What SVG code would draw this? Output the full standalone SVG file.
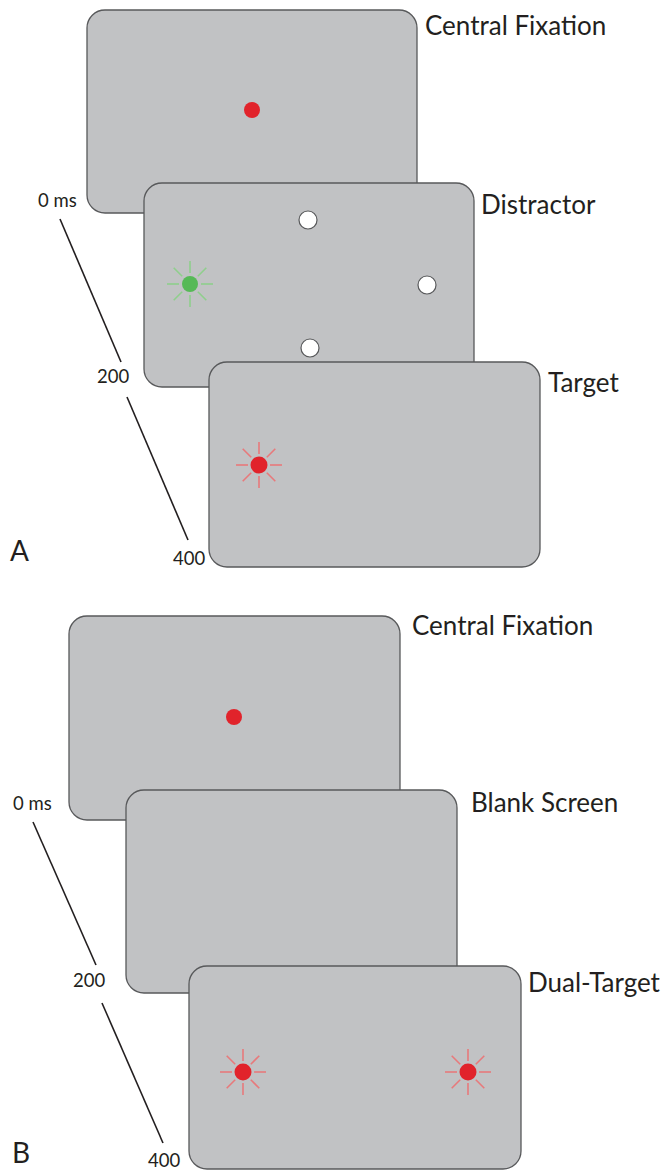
<svg xmlns="http://www.w3.org/2000/svg" width="664" height="1170" viewBox="0 0 664 1170">
  <defs>
    <style>
      .screen { fill: #c1c2c4; stroke: #58595b; stroke-width: 1.3; }
      .lbl { font-family: Lato, "Open Sans", sans-serif; font-size: 26px; fill: #231f20; }
      .tm { font-family: Lato, "Open Sans", sans-serif; font-size: 18.5px; fill: #231f20; }
      .panel { font-family: Lato, "Open Sans", sans-serif; font-size: 28px; fill: #231f20; }
      .axis { stroke: #231f20; stroke-width: 1.6; fill: none; }
      .fix { fill: #e1232b; }
      .ring { fill: #ffffff; stroke: #58595b; stroke-width: 1.2; }
      .rayR { stroke: #e8797b; stroke-width: 1.6; }
      .rayG { stroke: #8fcf8c; stroke-width: 1.6; }
      .dotG { fill: #56b956; }
    </style>
    <g id="raysR" class="rayR">
      <line x1="0" y1="-11" x2="0" y2="-23"/>
      <line x1="0" y1="11" x2="0" y2="23"/>
      <line x1="-11" y1="0" x2="-23" y2="0"/>
      <line x1="11" y1="0" x2="23" y2="0"/>
      <line x1="7.8" y1="-7.8" x2="16.3" y2="-16.3"/>
      <line x1="-7.8" y1="-7.8" x2="-16.3" y2="-16.3"/>
      <line x1="7.8" y1="7.8" x2="16.3" y2="16.3"/>
      <line x1="-7.8" y1="7.8" x2="-16.3" y2="16.3"/>
    </g>
    <g id="raysG" class="rayG">
      <line x1="0" y1="-11" x2="0" y2="-23"/>
      <line x1="0" y1="11" x2="0" y2="23"/>
      <line x1="-11" y1="0" x2="-23" y2="0"/>
      <line x1="11" y1="0" x2="23" y2="0"/>
      <line x1="7.8" y1="-7.8" x2="16.3" y2="-16.3"/>
      <line x1="-7.8" y1="-7.8" x2="-16.3" y2="-16.3"/>
      <line x1="7.8" y1="7.8" x2="16.3" y2="16.3"/>
      <line x1="-7.8" y1="7.8" x2="-16.3" y2="16.3"/>
    </g>
  </defs>

  <!-- Panel A -->
  <g id="A-central">
    <rect class="screen" x="87" y="10" width="330" height="203" rx="18"/>
    <circle class="fix" cx="252" cy="110" r="8"/>
    <text class="lbl" x="425" y="35">Central Fixation</text>
  </g>
  <g id="A-distractor">
    <rect class="screen" x="144" y="183" width="330" height="204" rx="18"/>
    <circle class="ring" cx="308" cy="220" r="9"/>
    <circle class="ring" cx="427" cy="285" r="9"/>
    <circle class="ring" cx="310" cy="348" r="9"/>
    <use href="#raysG" x="190" y="284"/>
    <circle class="dotG" cx="190" cy="284" r="8"/>
    <text class="lbl" x="481" y="214">Distractor</text>
  </g>
  <g id="A-target">
    <rect class="screen" x="209" y="362" width="331" height="205" rx="18"/>
    <use href="#raysR" x="259" y="465"/>
    <circle class="fix" cx="259" cy="465" r="8.5"/>
    <text class="lbl" x="548" y="392">Target</text>
  </g>
  <g id="A-time">
    <text class="tm" x="38" y="207">0 ms</text>
    <text class="tm" x="97" y="383">200</text>
    <text class="tm" x="173" y="565">400</text>
  </g>
  <text class="panel" x="10" y="561">A</text>

  <!-- Panel B -->
  <g id="B-central">
    <rect class="screen" x="69" y="616" width="331" height="204" rx="18"/>
    <circle class="fix" cx="234" cy="717" r="8"/>
    <text class="lbl" x="412" y="635">Central Fixation</text>
  </g>
  <g id="B-blank">
    <rect class="screen" x="126" y="790" width="331" height="203" rx="18"/>
    <text class="lbl" x="471" y="812">Blank Screen</text>
  </g>
  <g id="B-dual">
    <rect class="screen" x="189" y="966" width="332" height="203" rx="18"/>
    <use href="#raysR" x="243" y="1072"/>
    <circle class="fix" cx="243" cy="1072" r="8.5"/>
    <use href="#raysR" x="468" y="1072"/>
    <circle class="fix" cx="468" cy="1072" r="8.5"/>
    <text class="lbl" x="528" y="992">Dual-Target</text>
  </g>
  <g id="B-time">
    <text class="tm" x="13" y="810">0 ms</text>
    <text class="tm" x="73" y="987">200</text>
    <text class="tm" x="148" y="1167">400</text>
  </g>
  <text class="panel" x="12" y="1163">B</text>

  <!-- Connectors (time axes) -->
  <g id="connectors">
    <line class="axis" x1="60" y1="219" x2="121" y2="362"/>
    <line class="axis" x1="127" y1="397" x2="188" y2="540"/>
    <line class="axis" x1="33" y1="822" x2="96" y2="965"/>
    <line class="axis" x1="102" y1="1003" x2="163" y2="1143"/>
  </g>
</svg>
